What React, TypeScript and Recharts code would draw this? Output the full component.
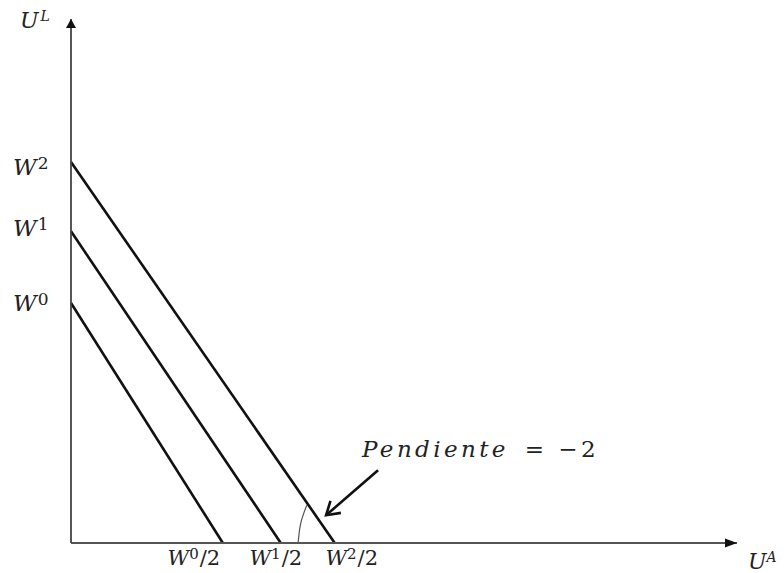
import React from 'react';
import { LineChart, Line, XAxis, YAxis, ReferenceDot } from 'recharts';

// ---- data (chart units: both axes run 0..100) ----
const budgetNames = ['W0', 'W1', 'W2'];
const superscripts = ['0', '1', '2'];
const yIntercepts = [45.8, 59.5, 72.7]; // W^0, W^1, W^2 on U^L axis
const xIntercepts = [22.8, 31.5, 39.6]; // W^0/2, W^1/2, W^2/2 on U^A axis
const slopeArc = [
  { x: 35.4, y: 7.2 },
  { x: 34.5, y: 3.8 },
  { x: 34.1, y: 0 },
];
const pointerArrow = [
  { x: 46.1, y: 13.9 },
  { x: 38.3, y: 5.3 },
];
const slopeLabelAt = { x: 43.7, y: 16.4 };
const slopeWord = 'Pendiente';
const slopeValue = '= −2';
const X_MAX = 100;
const Y_MAX = 100;

// ---- styles ----
const FONT = 'DejaVu Serif';
const TEXT = '#222';
const xTickShift = [-29, -5, 17];
const yTickBaseline = [8, 5, 13];

const lineSeries = budgetNames.map((name, i) => ({
  name,
  data: [
    { x: 0, y: yIntercepts[i] },
    { x: xIntercepts[i], y: 0 },
  ],
}));

const XTick = (props: any) => {
  const { x, y, payload } = props;
  const i = xIntercepts.indexOf(payload.value);
  if (i < 0) return <g />;
  return (
    <text x={x + xTickShift[i]} y={y + 22} textAnchor="middle" fontFamily={FONT} fontSize={21} fill={TEXT}>
      <tspan fontStyle="italic">W</tspan>
      <tspan fontSize={15} dy={-6}>{superscripts[i]}</tspan>
      <tspan dy={6} dx={1}>/2</tspan>
    </text>
  );
};

const YTick = (props: any) => {
  const { y, payload } = props;
  const i = yIntercepts.indexOf(payload.value);
  if (i < 0) return <g />;
  return (
    <text x={13} y={y + yTickBaseline[i]} textAnchor="start" fontFamily={FONT} fontSize={23} fill={TEXT}>
      <tspan fontStyle="italic">W</tspan>
      <tspan fontSize={17} dy={-6} dx={1}>{superscripts[i]}</tspan>
    </text>
  );
};

const UpArrow = (props: any) => {
  const { cx, cy } = props;
  return (
    <g>
      <polygon points={`${cx},${cy} ${cx - 5},${cy + 9} ${cx + 5},${cy + 9}`} fill="#111" />
      <text x={cx - 51} y={cy + 9} fontFamily={FONT} fontSize={22} fill={TEXT}>
        <tspan fontStyle="italic">U</tspan>
        <tspan fontStyle="italic" fontSize={14} dy={-7} dx={2}>L</tspan>
      </text>
    </g>
  );
};

const RightArrow = (props: any) => {
  const { cx, cy } = props;
  return (
    <g>
      <polygon points={`${cx},${cy} ${cx - 12},${cy - 4.5} ${cx - 12},${cy + 4.5}`} fill="#111" />
      <text x={cx + 11} y={cy + 26} fontFamily={FONT} fontSize={22} fill={TEXT}>
        <tspan fontStyle="italic">U</tspan>
        <tspan fontStyle="italic" fontSize={14} dy={-7}>A</tspan>
      </text>
    </g>
  );
};

const SlopeLabel = (props: any) => {
  const { cx, cy } = props;
  return (
    <text x={cx} y={cy} fontFamily={FONT} fontSize={23} fill={TEXT} letterSpacing={3.4}>
      <tspan fontStyle="italic">{slopeWord}</tspan>
      <tspan dx={16}>{slopeValue}</tspan>
    </text>
  );
};

let arrowStart: { x: number; y: number } | null = null;
const ArrowHead = (props: any) => {
  const { cx, cy, index } = props;
  if (index === 0) {
    arrowStart = { x: cx, y: cy };
    return <g key={`ah-${index}`} />;
  }
  const s = arrowStart || { x: cx + 52, y: cy - 45 };
  const dx = cx - s.x;
  const dy = cy - s.y;
  const len = Math.sqrt(dx * dx + dy * dy) || 1;
  const ux = dx / len;
  const uy = dy / len;
  const L = 15;
  const a = (32 * Math.PI) / 180;
  const rot = (ang: number) => ({
    x: cx - L * (ux * Math.cos(ang) - uy * Math.sin(ang)),
    y: cy - L * (ux * Math.sin(ang) + uy * Math.cos(ang)),
  });
  const p1 = rot(a);
  const p2 = rot(-a);
  return (
    <path
      key={`ah-${index}`}
      d={`M${p1.x},${p1.y} L${cx},${cy} L${p2.x},${p2.y}`}
      stroke="#111"
      strokeWidth={2.6}
      fill="none"
    />
  );
};

export default function App() {
  return (
    <div style={{ position: 'absolute', left: 0, top: 0, width: 784, height: 573, background: '#fff' }}>
      <LineChart width={784} height={573} margin={{ top: 19, right: 47, bottom: 0, left: 0 }}>
        <XAxis
          dataKey="x"
          type="number"
          domain={[0, X_MAX]}
          ticks={xIntercepts}
          tick={<XTick />}
          tickLine={false}
          tickSize={0}
          tickMargin={0}
          height={30}
          axisLine={{ stroke: '#555', strokeWidth: 2 }}
          allowDuplicatedCategory={false}
          interval={0}
        />
        <YAxis
          dataKey="y"
          type="number"
          domain={[0, Y_MAX]}
          ticks={yIntercepts}
          tick={<YTick />}
          tickLine={false}
          tickSize={0}
          tickMargin={0}
          width={71}
          axisLine={{ stroke: '#444', strokeWidth: 1.8 }}
          interval={0}
        />
        {lineSeries.map((s) => (
          <Line
            key={s.name}
            data={s.data}
            dataKey="y"
            type="linear"
            stroke="#111"
            strokeWidth={2.6}
            dot={false}
            isAnimationActive={false}
          />
        ))}
        <Line
          data={slopeArc}
          dataKey="y"
          type="natural"
          stroke="#555"
          strokeWidth={1.2}
          dot={false}
          isAnimationActive={false}
        />
        <Line
          data={pointerArrow}
          dataKey="y"
          type="linear"
          stroke="#111"
          strokeWidth={2.6}
          dot={<ArrowHead />}
          isAnimationActive={false}
        />
        <ReferenceDot x={0} y={Y_MAX} r={0} shape={<UpArrow />} ifOverflow="visible" />
        <ReferenceDot x={X_MAX} y={0} r={0} shape={<RightArrow />} ifOverflow="visible" />
        <ReferenceDot x={slopeLabelAt.x} y={slopeLabelAt.y} r={0} shape={<SlopeLabel />} ifOverflow="visible" />
      </LineChart>
    </div>
  );
}
